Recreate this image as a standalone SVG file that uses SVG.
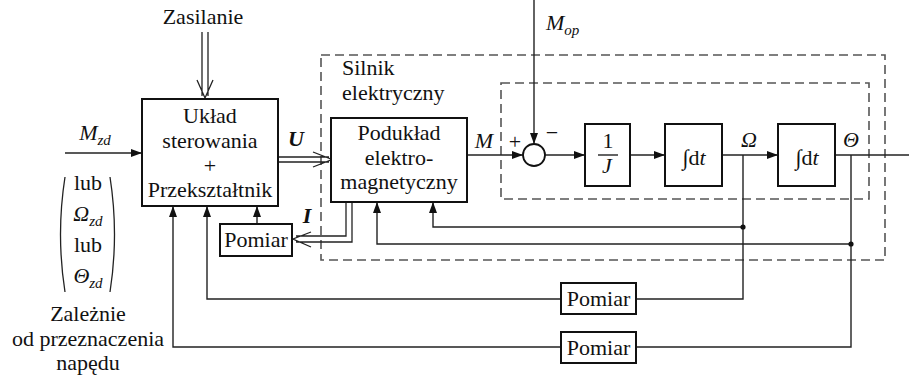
<svg xmlns="http://www.w3.org/2000/svg" width="909" height="376" viewBox="0 0 909 376" font-family="'Liberation Serif', 'DejaVu Serif', serif">
<defs>
<style>
text{font-family:'Liberation Serif','DejaVu Serif',serif}
.t{font-size:22px;fill:#111}
.i{font-style:italic}
.b{font-weight:bold;font-style:italic}
.sub{font-size:15px;font-style:italic}
.box{fill:#fff;stroke:#111;stroke-width:2}
.ln{fill:none;stroke:#222;stroke-width:1.4}
.dash{fill:none;stroke:#555;stroke-width:1.6;stroke-dasharray:9 5}
.open{fill:none;stroke:#222;stroke-width:1.3}
</style>
<marker id="ah" markerUnits="userSpaceOnUse" markerWidth="11" markerHeight="8" refX="11" refY="4" orient="auto">
<path d="M0,0 L11,4 L0,8 z" fill="#111"/>
</marker>
</defs>
<rect width="909" height="376" fill="#fff"/>

<g id="silnik-frame">
<rect class="dash" x="321" y="55" width="564" height="205"/>
<text class="t" x="342" y="75">Silnik</text>
<text class="t" x="342" y="100">elektryczny</text>
</g>
<g id="mech-frame">
<rect class="dash" x="501" y="83" width="368" height="116"/>
</g>

<g id="connectors">
<path class="open" d="M202,32 V96 M208,32 V96 M197,80 L205,98 L213,80"/>
<path class="ln" d="M65,153 H142" marker-end="url(#ah)"/>
<path class="open" d="M278,157 H329 M278,162 H329 M313,152 L332,159.5 L313,167"/>
<path class="ln" d="M467,155 H523" marker-end="url(#ah)"/>
<path class="ln" d="M534,0 V144" marker-end="url(#ah)"/>
<path class="ln" d="M545,155 H585" marker-end="url(#ah)"/>
<path class="ln" d="M630,155 H665" marker-end="url(#ah)"/>
<path class="ln" d="M722,155 H778" marker-end="url(#ah)"/>
<path class="ln" d="M835,155 H909"/>
<path class="ln" d="M743,155 V299 H636"/>
<path class="ln" d="M561,299 H207 V206" marker-end="url(#ah)"/>
<path class="ln" d="M743,227 H433 V202" marker-end="url(#ah)"/>
<circle cx="743" cy="227" r="2.6" fill="#111"/>
<path class="ln" d="M851,155 V347 H636"/>
<path class="ln" d="M561,347 H173 V206" marker-end="url(#ah)"/>
<path class="ln" d="M851,244 H377 V202" marker-end="url(#ah)"/>
<circle cx="851" cy="244" r="2.6" fill="#111"/>
<path class="open" d="M346,202 V236 H296 M352,202 V242 H296 M311,232 L293,239 L311,247"/>
<path class="ln" d="M257,224 V206" marker-end="url(#ah)"/>
</g>

<g id="zasilanie">
<text class="t" x="203" y="24" text-anchor="middle">Zasilanie</text>
</g>

<g id="input-label">
<text class="t i" x="95" y="140" text-anchor="middle">M<tspan class="sub" dy="5">zd</tspan></text>
<path class="open" d="M65,177 Q56,234.5 65,292"/>
<path class="open" d="M110,177 Q119,234.5 110,292"/>
<text class="t" x="88" y="190" text-anchor="middle">lub</text>
<text class="t i" x="88" y="221" text-anchor="middle">Ω<tspan class="sub" dy="5">zd</tspan></text>
<text class="t" x="88" y="252" text-anchor="middle">lub</text>
<text class="t i" x="88" y="283" text-anchor="middle">Θ<tspan class="sub" dy="5">zd</tspan></text>
<text class="t" x="88" y="321" text-anchor="middle">Zależnie</text>
<text class="t" x="88" y="346" text-anchor="middle">od przeznaczenia</text>
<text class="t" x="88" y="370" text-anchor="middle">napędu</text>
</g>

<g id="uklad">
<rect class="box" x="142" y="99" width="136" height="107"/>
<text class="t" x="210" y="123" text-anchor="middle">Układ</text>
<text class="t" x="210" y="148" text-anchor="middle">sterowania</text>
<text class="t" x="210" y="173" text-anchor="middle">+</text>
<text class="t" x="210" y="197" text-anchor="middle">Przekształtnik</text>
</g>

<g id="u-label"><text class="t b" x="296" y="146" text-anchor="middle">U</text></g>

<g id="podukl">
<rect class="box" x="331" y="118" width="136" height="84"/>
<text class="t" x="399" y="140" text-anchor="middle">Podukład</text>
<text class="t" x="399" y="165" text-anchor="middle">elektro-</text>
<text class="t" x="399" y="189" text-anchor="middle">magnetyczny</text>
</g>

<g id="m-label"><text class="t i" x="484" y="148" text-anchor="middle">M</text></g>

<g id="sum">
<circle cx="534" cy="155" r="11" fill="#fff" stroke="#111" stroke-width="1.8"/>
<text class="t" x="515" y="149" text-anchor="middle">+</text>
<text class="t" x="552" y="140" text-anchor="middle">−</text>
</g>

<g id="mop-label"><text class="t i" x="546" y="30">M<tspan class="sub" dy="5">op</tspan></text></g>

<g id="inv-j">
<rect class="box" x="585" y="124" width="45" height="62"/>
<text class="t" x="608" y="148" text-anchor="middle">1</text>
<path class="ln" d="M598,155 H618"/>
<text class="t i" x="607" y="173" text-anchor="middle">J</text>
</g>

<g id="int1">
<rect class="box" x="665" y="124" width="57" height="62"/>
<text class="t" x="694" y="165" text-anchor="middle">∫d<tspan class="i">t</tspan></text>
</g>

<g id="omega-label"><text class="t i" x="749" y="147" text-anchor="middle">Ω</text></g>

<g id="int2">
<rect class="box" x="778" y="124" width="57" height="62"/>
<text class="t" x="807" y="165" text-anchor="middle">∫d<tspan class="i">t</tspan></text>
</g>

<g id="theta-label"><text class="t i" x="851" y="147" text-anchor="middle">Θ</text></g>

<g id="pomiar-i">
<rect class="box" x="220" y="224" width="72" height="32"/>
<text class="t" x="256" y="247" text-anchor="middle">Pomiar</text>
</g>
<g id="i-label"><text class="t b" x="307" y="223" text-anchor="middle">I</text></g>

<g id="pomiar-omega">
<rect class="box" x="561" y="283" width="75" height="31"/>
<text class="t" x="598.5" y="306" text-anchor="middle">Pomiar</text>
</g>

<g id="pomiar-theta">
<rect class="box" x="561" y="332" width="75" height="31"/>
<text class="t" x="598.5" y="355" text-anchor="middle">Pomiar</text>
</g>
</svg>
